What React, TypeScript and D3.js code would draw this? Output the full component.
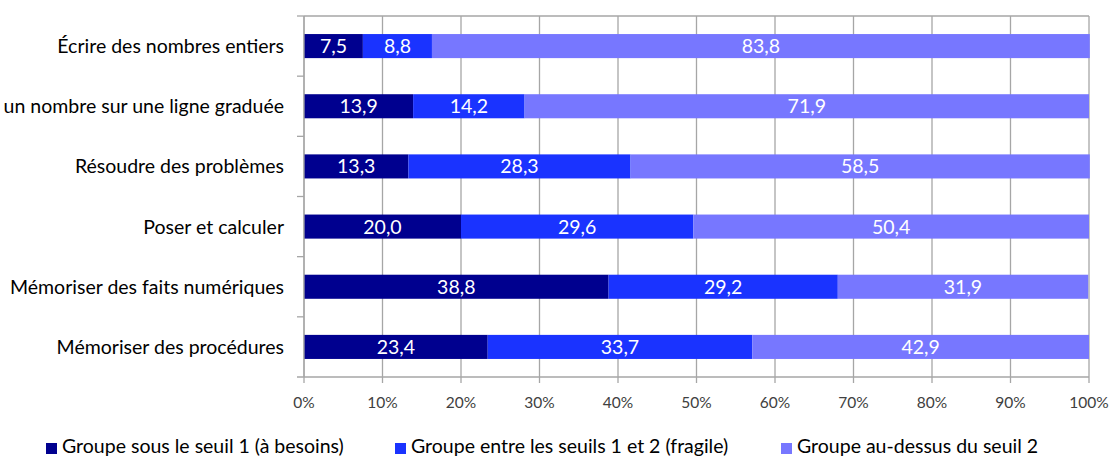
import React from 'react';
import * as d3 from 'd3';

const categories = [
  'Écrire des nombres entiers',
  'un nombre sur une ligne graduée',
  'Résoudre des problèmes',
  'Poser et calculer',
  'Mémoriser des faits numériques',
  'Mémoriser des procédures',
];
const seriesNames = [
  'Groupe sous le seuil 1 (à besoins)',
  'Groupe entre les seuils 1 et 2 (fragile)',
  'Groupe au-dessus du seuil 2',
];
const belowSeuil1 = [7.5, 13.9, 13.3, 20.0, 38.8, 23.4];
const between12 = [8.8, 14.2, 28.3, 29.6, 29.2, 33.7];
const aboveSeuil2 = [83.8, 71.9, 58.5, 50.4, 31.9, 42.9];
const colors = ['#00008f', '#1a33ff', '#7777ff'];
const xTicks = [0, 10, 20, 30, 40, 50, 60, 70, 80, 90, 100];

const W = 1112;
const H = 457;
const margin = { top: 16, right: 23, bottom: 80, left: 304 };
const font = 'Lato, "Open Sans", sans-serif';

const App: React.FC = () => {
  const innerW = W - margin.left - margin.right;
  const innerH = H - margin.top - margin.bottom;

  const x = d3.scaleLinear().domain([0, 100]).range([0, innerW]);
  const y = d3.scaleBand().domain(categories).range([0, innerH]).paddingInner(0.6).paddingOuter(0.3);
  const band = d3.scaleBand().domain(categories).range([0, innerH]);

  const rows = categories.map((c, i) => ({
    cat: c,
    vals: [belowSeuil1[i], between12[i], aboveSeuil2[i]],
  }));

  const legendX = [46, 395, 781];
  const grid = '#a6a6a6';
  const fmt = (v: number) => v.toFixed(1).replace('.', ',');

  return (
    <svg width={W} height={H} style={{ position: 'absolute', left: 0, top: 0, background: '#fff' }}>
      <g transform={`translate(${margin.left},${margin.top})`}>
        {/* vertical gridlines */}
        {xTicks.map(t => (
          <line key={t} x1={x(t)} x2={x(t)} y1={0} y2={innerH} stroke={grid} strokeWidth={1.3} />
        ))}
        <line x1={0} x2={innerW} y1={0} y2={0} stroke={grid} strokeWidth={1.3} />
        {/* left axis ticks */}
        {categories.map(c => (
          <line key={c} x1={-7} x2={0} y1={band(c)!} y2={band(c)!} stroke={grid} strokeWidth={1.3} />
        ))}
        {/* bars */}
        {rows.map(r => {
          let acc = 0;
          return r.vals.map((v, j) => {
            const x0 = acc;
            acc += v;
            return (
              <g key={r.cat + j}>
                <rect x={x(x0)} y={y(r.cat)!} width={x(acc) - x(x0)} height={y.bandwidth()} fill={colors[j]} />
                <text
                  x={(x(x0) + x(acc)) / 2}
                  y={y(r.cat)! + y.bandwidth() / 2}
                  dy="0.36em"
                  textAnchor="middle"
                  fill="#fff"
                  fontSize={19.5}
                  fontFamily={font}
                >
                  {fmt(v)}
                </text>
              </g>
            );
          });
        })}
        {/* category labels */}
        {categories.map(c => (
          <text
            key={c}
            x={-20}
            y={band(c)! + band.bandwidth() / 2}
            dy="0.36em"
            textAnchor="end"
            fontSize={19.5}
            fontFamily={font}
            fill="#000"
          >
            {c}
          </text>
        ))}
        {/* bottom axis */}
        <line x1={-7} x2={innerW} y1={innerH} y2={innerH} stroke={grid} strokeWidth={1.3} />
        {xTicks.map(t => (
          <g key={t} transform={`translate(${x(t)},${innerH})`}>
            <line y1={0} y2={6} stroke={grid} strokeWidth={1.3} />
            <text y={25} dy="0.36em" textAnchor="middle" fontSize={15.5} fontFamily={font} fill="#404040">
              {t}%
            </text>
          </g>
        ))}
        <line x1={0} x2={0} y1={0} y2={innerH} stroke={grid} strokeWidth={1.3} />
      </g>
      {/* legend */}
      {seriesNames.map((s, i) => (
        <g key={s} transform={`translate(${legendX[i]},0)`}>
          <rect x={0} y={443} width={11} height={11} fill={colors[i]} />
          <text x={16} y={453} fontSize={19.5} fontFamily={font} fill="#000">
            {s}
          </text>
        </g>
      ))}
    </svg>
  );
};

export default App;
